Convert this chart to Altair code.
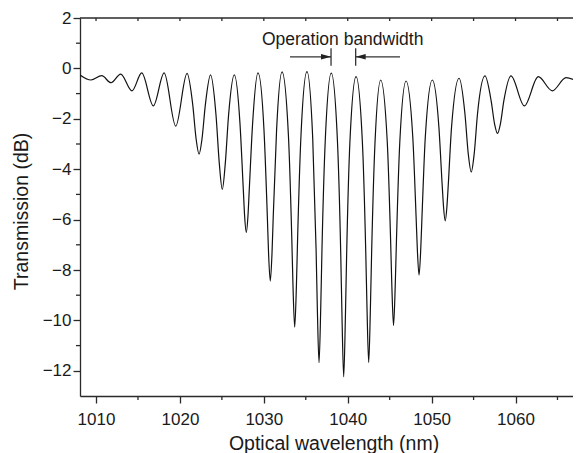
import altair as alt
import pandas as pd

# Transmission spectrum (wavelength nm, transmission dB)
wl = [1008.09, 1009.40, 1010.68, 1011.79, 1012.94, 1014.29, 1015.45, 1016.83, 1018.12, 1019.50, 1020.85,
      1021.53, 1021.93, 1022.28, 1022.63, 1023.03, 1023.65,
      1024.30, 1024.70, 1025.05, 1025.40, 1025.80, 1026.48,
      1027.16, 1027.56, 1027.71, 1027.91, 1028.11, 1028.26, 1028.66, 1029.31,
      1030.02, 1030.42, 1030.57, 1030.77, 1030.97, 1031.12, 1031.52, 1032.17,
      1032.93, 1033.33, 1033.48, 1033.68, 1033.88, 1034.03, 1034.43, 1035.14,
      1035.83, 1036.23, 1036.38, 1036.58, 1036.78, 1036.93, 1037.33, 1038.04,
      1038.77, 1039.17, 1039.32, 1039.52, 1039.72, 1039.87, 1040.27, 1040.99,
      1041.75, 1042.15, 1042.30, 1042.50, 1042.70, 1042.85, 1043.25, 1043.93,
      1044.71, 1045.11, 1045.26, 1045.46, 1045.66, 1045.81, 1046.21, 1046.95,
      1047.75, 1048.15, 1048.30, 1048.50, 1048.70, 1048.85, 1049.25, 1050.08,
      1050.87, 1051.27, 1051.42, 1051.62, 1051.82, 1051.97, 1052.37, 1053.27,
      1053.97, 1054.37, 1054.72, 1055.07, 1055.47, 1056.36,
      1057.10, 1057.50, 1057.85, 1058.20, 1058.60, 1059.46,
      1061.05, 1062.71, 1064.38, 1066.02, 1067.69]
tr = [-0.26, -0.46, -0.29, -0.57, -0.23, -0.89, -0.18, -1.49, -0.18, -2.29, -0.20,
      -1.45, -2.80, -3.40, -2.80, -1.45, -0.26,
      -1.85, -3.80, -4.80, -3.80, -1.85, -0.26,
      -2.20, -4.85, -5.85, -6.51, -5.85, -4.85, -2.20, -0.18,
      -2.45, -5.90, -7.38, -8.44, -7.38, -5.90, -2.45, -0.14,
      -2.65, -6.70, -8.67, -10.27, -8.67, -6.70, -2.65, -0.13,
      -2.80, -7.20, -9.55, -11.68, -9.55, -7.20, -2.80, -0.19,
      -2.85, -7.40, -9.90, -12.24, -9.90, -7.40, -2.85, -0.33,
      -2.95, -7.30, -9.55, -11.67, -9.55, -7.30, -2.95, -0.46,
      -2.90, -6.80, -8.65, -10.20, -8.65, -6.80, -2.90, -0.50,
      -2.70, -5.90, -7.20, -8.20, -7.20, -5.90, -2.70, -0.46,
      -2.35, -4.70, -5.50, -6.05, -5.50, -4.70, -2.35, -0.39,
      -1.80, -3.40, -4.11, -3.40, -1.80, -0.30,
      -1.30, -2.20, -2.58, -2.20, -1.30, -0.30,
      -1.49, -0.33, -0.89, -0.37, -0.56]

x_major = [1010, 1020, 1030, 1040, 1050, 1060]
x_minor = [1015, 1025, 1035, 1045, 1055, 1065]
y_major = [2, 0, -2, -4, -6, -8, -10, -12]
y_minor = [1, -1, -3, -5, -7, -9, -11]

# annotation "Operation bandwidth"
ann_text = ["Operation bandwidth"]
ann_x = [1039.4]
ann_y = [0.93]
arrow_from = [1033.12, 1046.23]
arrow_to = [1038.01, 1040.95]
arrow_y = [0.46, 0.46]
bar_x = [1038.01, 1040.95]
bar_y1 = [0.80, 0.80]
bar_y2 = [0.11, 0.11]

W, H = 493, 378
FONT = "Liberation Sans"
INK = "#1a1a1a"
AX = "#2a2a2a"

xs = alt.Scale(domain=[1008.09, 1066.85], nice=False, zero=False)
ys = alt.Scale(domain=[-13, 2], nice=False, zero=False)

XAX = alt.Axis(values=x_major, title="Optical wavelength (nm)", format="d",
               tickSize=7, labelPadding=8, titlePadding=7, titleX=253.5)
YAX = alt.Axis(values=y_major, title="Transmission (dB)",
               tickSize=7, labelPadding=2, titlePadding=11, titleY=193)


def X(f):
    return alt.X(f, scale=xs, axis=XAX, title="Optical wavelength (nm)")


def Y(f):
    return alt.Y(f, scale=ys, axis=YAX, title="Transmission (dB)")


df = pd.DataFrame({"wl": wl, "tr": tr})

line = alt.Chart(df).mark_line(color="#111111", strokeWidth=1.2, interpolate="monotone", clip=True).encode(
    x=X("wl:Q"), y=Y("tr:Q"))

xminor = alt.Chart(pd.DataFrame({"v": x_minor})).mark_rule(color=AX, strokeWidth=1.3).encode(
    x=X("v:Q"), y=alt.value(H), y2=alt.value(H + 4))

xtop = alt.Chart(pd.DataFrame({"v": x_major + x_minor})).mark_rule(color=AX, strokeWidth=1.3).encode(
    x=X("v:Q"), y=alt.value(0), y2=alt.value(3))

yminor = alt.Chart(pd.DataFrame({"v": y_minor})).mark_rule(color=AX, strokeWidth=1.3).encode(
    y=Y("v:Q"), x=alt.value(-4), x2=alt.value(0))

topline = alt.Chart(pd.DataFrame({"v": [0]})).mark_rule(color=AX, strokeWidth=1.3).encode(
    x=alt.value(0), x2=alt.value(W), y=alt.value(0))

arrows_df = pd.DataFrame({"a": arrow_from, "b": arrow_to, "y": arrow_y})
arrows = alt.Chart(arrows_df).mark_rule(color="#333333", strokeWidth=1.2).encode(
    x=X("a:Q"), x2="b:Q", y=Y("y:Q"))

head_r = alt.Chart(pd.DataFrame({"x": [arrow_to[0]], "y": [arrow_y[0]]})).mark_point(
    shape="M-1,-0.55L1,0L-1,0.55Z", filled=True, size=100, color="#222222", opacity=1, xOffset=-5
).encode(x=X("x:Q"), y=Y("y:Q"))

head_l = alt.Chart(pd.DataFrame({"x": [arrow_to[1]], "y": [arrow_y[1]]})).mark_point(
    shape="M1,-0.55L-1,0L1,0.55Z", filled=True, size=100, color="#222222", opacity=1, xOffset=5
).encode(x=X("x:Q"), y=Y("y:Q"))

bars = alt.Chart(pd.DataFrame({"x": bar_x, "y1": bar_y1, "y2": bar_y2})).mark_rule(
    color="#222222", strokeWidth=1.2).encode(
    x=X("x:Q"), y=Y("y1:Q"), y2="y2:Q")

ann = alt.Chart(pd.DataFrame({"t": ann_text, "x": ann_x, "y": ann_y})).mark_text(
    font=FONT, fontSize=17.5, color=INK, align="center", baseline="alphabetic").encode(
    x=X("x:Q"), y=Y("y:Q"), text="t:N")

chart = alt.layer(line, xminor, xtop, yminor, topline, arrows, head_r, head_l, bars, ann).properties(
    width=W, height=H,
    padding={"left": 72, "top": 10, "right": 0, "bottom": 57},
    autosize=alt.AutoSizeParams(type="none"),
).configure_view(stroke=None).configure_axis(
    grid=False, domainColor=AX, domainWidth=1.3, tickColor=AX, tickWidth=1.3,
    labelFont=FONT, labelFontSize=17, labelColor=INK,
    titleFont=FONT, titleFontSize=19.5, titleColor=INK, titleFontWeight="normal",
)

chart.save("out.html", embed_options={"renderer": "svg", "actions": False})
